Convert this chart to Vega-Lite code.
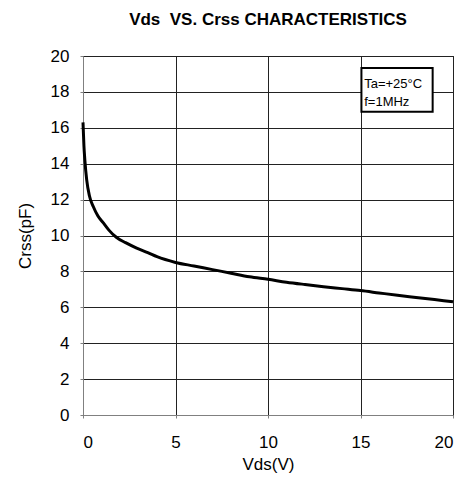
{
  "$schema": "https://vega.github.io/schema/vega-lite/v6.json",
  "width": 370,
  "height": 359,
  "autosize": {"type": "none"},
  "padding": {"left": 83, "top": 56, "right": 15, "bottom": 70},
  "background": "white",
  "title": {
    "text": "Vds\u00a0\u00a0VS. Crss CHARACTERISTICS",
    "font": "Liberation Sans",
    "fontSize": 17,
    "fontWeight": "bold",
    "color": "#000",
    "offset": 18,
    "anchor": "middle"
  },
  "config": {
    "view": {"stroke": "#000", "strokeWidth": 1},
    "axis": {
      "labelFont": "Liberation Sans",
      "titleFont": "Liberation Sans",
      "labelFontSize": 17,
      "titleFontSize": 17,
      "titleFontWeight": "normal",
      "labelColor": "#000",
      "titleColor": "#000",
      "gridColor": "#222",
      "gridOpacity": 1,
      "gridWidth": 1,
      "domainColor": "#808080",
      "tickColor": "#808080",
      "tickSize": 3,
      "labelOverlap": false
    }
  },
  "datasets": {
    "curve": [
      {"vds": 0, "crss": 16.3},
      {"vds": 0.05, "crss": 15.0},
      {"vds": 0.1, "crss": 14.2},
      {"vds": 0.2, "crss": 13.1},
      {"vds": 0.35, "crss": 12.2},
      {"vds": 0.56, "crss": 11.6},
      {"vds": 0.8, "crss": 11.1},
      {"vds": 1.1, "crss": 10.7},
      {"vds": 1.4, "crss": 10.3},
      {"vds": 1.8, "crss": 9.9},
      {"vds": 2.3, "crss": 9.6},
      {"vds": 2.9, "crss": 9.3},
      {"vds": 3.5, "crss": 9.05},
      {"vds": 4.0, "crss": 8.82},
      {"vds": 5.0, "crss": 8.5},
      {"vds": 6.0, "crss": 8.3},
      {"vds": 7.0, "crss": 8.1},
      {"vds": 8.0, "crss": 7.9},
      {"vds": 9.0, "crss": 7.7},
      {"vds": 10, "crss": 7.56},
      {"vds": 11, "crss": 7.4},
      {"vds": 12, "crss": 7.27},
      {"vds": 13, "crss": 7.15},
      {"vds": 14, "crss": 7.04},
      {"vds": 15, "crss": 6.93},
      {"vds": 16, "crss": 6.8},
      {"vds": 17, "crss": 6.67},
      {"vds": 18, "crss": 6.55},
      {"vds": 19, "crss": 6.43},
      {"vds": 20, "crss": 6.31}
    ],
    "box": [{"x1": 15.05, "x2": 18.9, "y1": 19.33, "y2": 16.9}],
    "notes": [
      {"x": 15.2, "y": 18.45, "label": "Ta=+25°C"},
      {"x": 15.2, "y": 17.45, "label": "f=1MHz"}
    ]
  },
  "layer": [
    {
      "data": {"name": "curve"},
      "mark": {"type": "line", "color": "#000", "strokeWidth": 3, "interpolate": "monotone"},
      "encoding": {
        "x": {
          "field": "vds", "type": "quantitative",
          "scale": {"domain": [0, 20], "nice": false},
          "axis": {"title": "Vds(V)", "values": [0, 5, 10, 15, 20], "labelPadding": 16, "titlePadding": 6, "grid": true, "labelOverlap": false}
        },
        "y": {
          "field": "crss", "type": "quantitative",
          "scale": {"domain": [0, 20], "nice": false},
          "axis": {"title": "Crss(pF)", "values": [0, 2, 4, 6, 8, 10, 12, 14, 16, 18, 20], "labelPadding": 11, "titlePadding": 16, "grid": true, "labelOverlap": false}
        }
      }
    },
    {
      "data": {"name": "box"},
      "mark": {"type": "rect", "fill": "white", "stroke": "#000", "strokeWidth": 2},
      "encoding": {
        "x": {"field": "x1", "type": "quantitative",
          "axis": {"title": "Vds(V)", "values": [0, 5, 10, 15, 20], "labelPadding": 16, "titlePadding": 6, "grid": true, "labelOverlap": false}},
        "x2": {"field": "x2"},
        "y": {"field": "y1", "type": "quantitative",
          "axis": {"title": "Crss(pF)", "values": [0, 2, 4, 6, 8, 10, 12, 14, 16, 18, 20], "labelPadding": 11, "titlePadding": 16, "grid": true, "labelOverlap": false}},
        "y2": {"field": "y2"}
      }
    },
    {
      "data": {"name": "notes"},
      "mark": {"type": "text", "align": "left", "baseline": "middle", "font": "Liberation Sans", "fontSize": 13, "color": "#000"},
      "encoding": {
        "x": {"field": "x", "type": "quantitative",
          "axis": {"title": "Vds(V)", "values": [0, 5, 10, 15, 20], "labelPadding": 16, "titlePadding": 6, "grid": true, "labelOverlap": false}},
        "y": {"field": "y", "type": "quantitative",
          "axis": {"title": "Crss(pF)", "values": [0, 2, 4, 6, 8, 10, 12, 14, 16, 18, 20], "labelPadding": 11, "titlePadding": 16, "grid": true, "labelOverlap": false}},
        "text": {"field": "label"}
      }
    }
  ]
}
